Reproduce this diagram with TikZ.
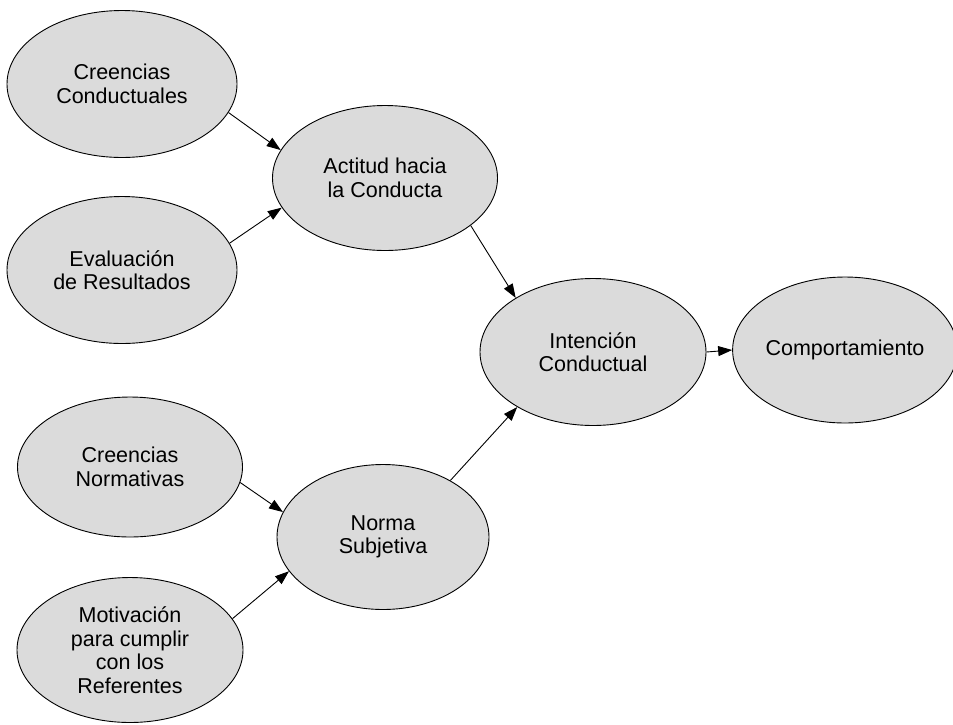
\documentclass[tikz,border=0pt]{standalone}
\usepackage{fontspec}
\setmainfont{Liberation Sans}
\usetikzlibrary{shapes.geometric,arrows.meta}
\definecolor{ellfill}{RGB}{219,219,219}
\begin{document}
\begin{tikzpicture}[x=1pt,y=-1pt,
  ell/.style={ellipse,draw=black,line width=0.9pt,fill=ellfill,inner sep=0pt,
    align=center,font=\fontsize{21.5}{23.5}\selectfont},
  conn/.style={line width=0.9pt,-{Triangle[length=14pt,width=10pt]}}]
\useasboundingbox (0,0) rectangle (953,724);
\node[ell,minimum width=230pt,minimum height=147pt] (cc) at (122,84) {Creencias\\Conductuales};
\node[ell,minimum width=230pt,minimum height=147pt] (er) at (122,270) {Evaluación\\de Resultados};
\node[ell,minimum width=225pt,minimum height=145pt] (ac) at (385,178) {Actitud hacia\\la Conducta};
\node[ell,minimum width=226pt,minimum height=147pt] (ic) at (593,352) {Intención\\Conductual};
\node[ell,minimum width=214pt,minimum height=146pt] (co) at (845,350) {Comportamiento};
\node[ell,minimum width=225pt,minimum height=140pt] (cn) at (130,467) {Creencias\\Normativas};
\node[ell,minimum width=212pt,minimum height=145pt] (ns) at (383,537) {Norma\\Subjetiva};
\node[ell,minimum width=226pt,minimum height=145pt] (mo) at (130,650) {Motivación\\para cumplir\\con los\\Referentes};
\draw[conn] (cc.-15) -- (ac.165);
\draw[conn] (er.14) -- (ac.196);
\draw[conn] (ac.-29) -- (ic.145);
\draw[conn] (ns.40) -- (ic.216);
\draw[conn] (ic.0) -- (co.180);
\draw[conn] (cn.-8) -- (ns.166);
\draw[conn] (mo.17) -- (ns.200);
\end{tikzpicture}
\end{document}
